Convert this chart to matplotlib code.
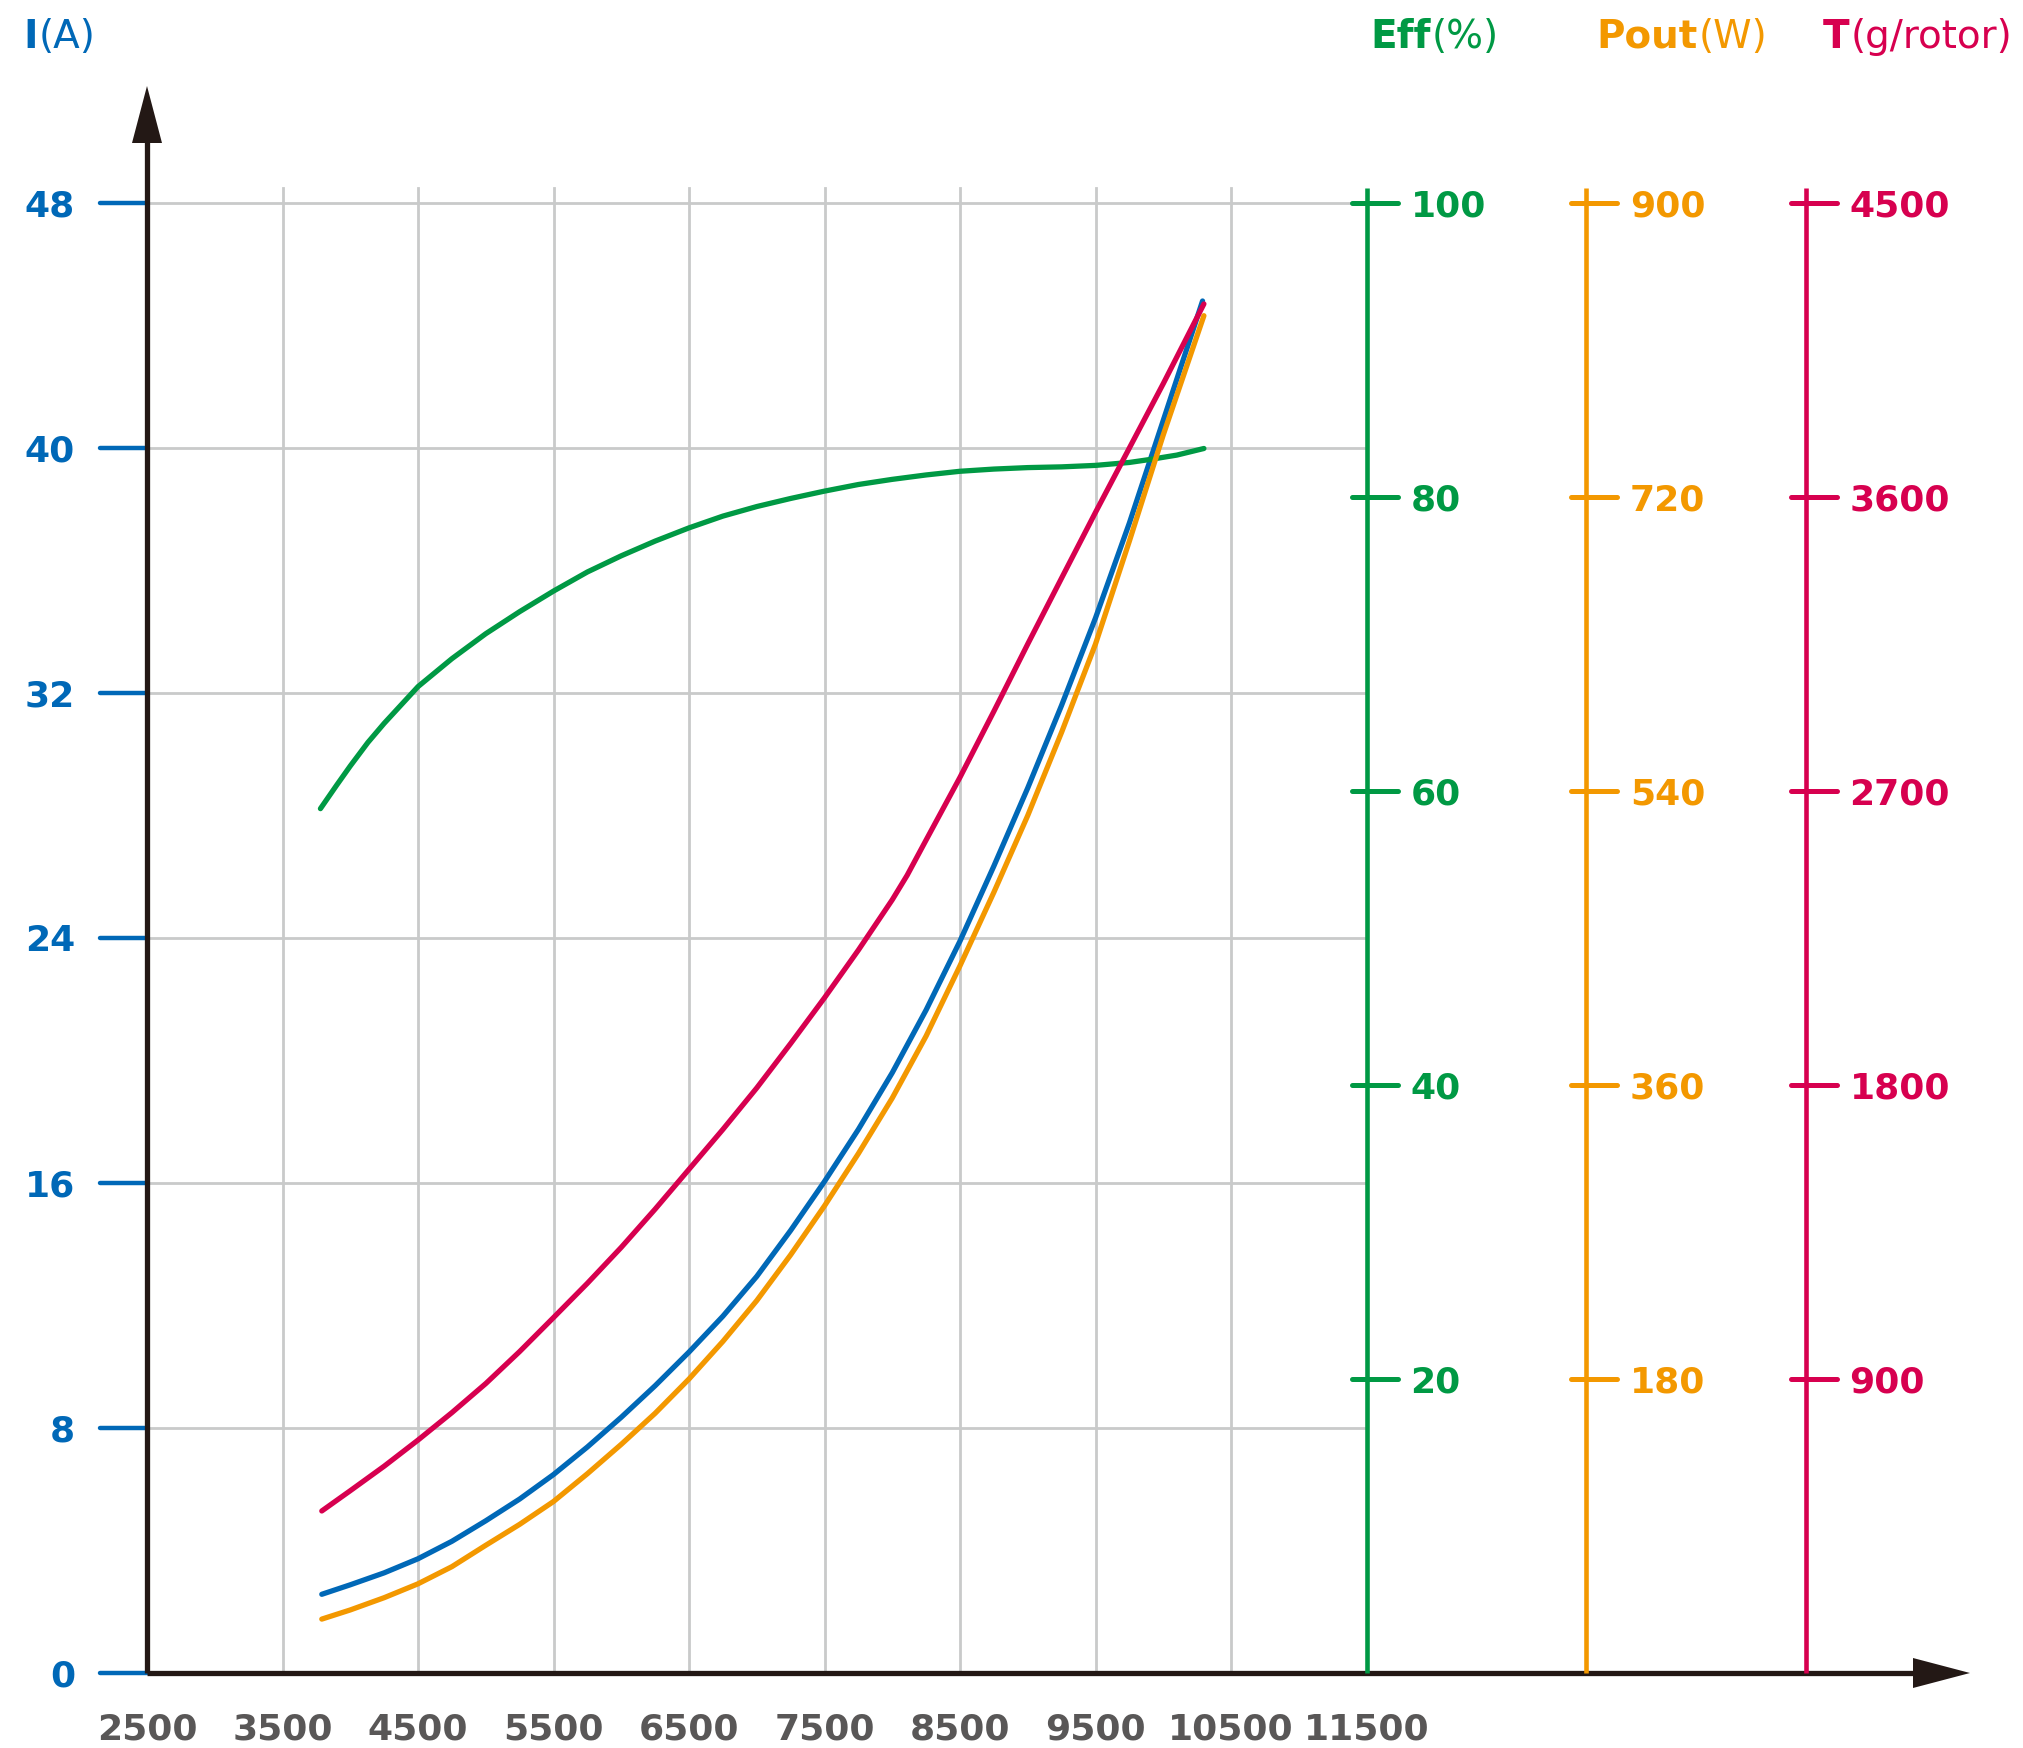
import matplotlib
matplotlib.use("Agg")
import matplotlib.pyplot as plt
from matplotlib.patches import Polygon

# ---------------- data ----------------
x_ticks = [2500, 3500, 4500, 5500, 6500, 7500, 8500, 9500, 10500, 11500]
i_ticks = [0, 8, 16, 24, 32, 40, 48]
eff_ticks = [20, 40, 60, 80, 100]
pout_ticks = [180, 360, 540, 720, 900]
thrust_ticks = [900, 1800, 2700, 3600, 4500]

rpm_i = [3790, 4000, 4250, 4500, 4750, 5000, 5250, 5500, 5750, 6000, 6250, 6500, 6750, 7000,
         7250, 7500, 7750, 8000, 8250, 8500, 8750, 9000, 9250, 9500, 9750, 10000, 10290]
current = [2.57, 2.88, 3.27, 3.73, 4.30, 4.97, 5.68, 6.48, 7.38, 8.35, 9.38, 10.48, 11.65, 12.95,
           14.45, 16.05, 17.75, 19.6, 21.65, 23.9, 26.35, 28.9, 31.6, 34.45, 37.55, 40.9, 44.8]

rpm_p = [3790, 4000, 4250, 4500, 4750, 5000, 5250, 5500, 5750, 6000, 6250, 6500, 6750, 7000,
         7250, 7500, 7750, 8000, 8250, 8500, 8750, 9000, 9250, 9500, 9750, 10000, 10300]
pout = [33, 38.6, 46.1, 54.6, 65.1, 78.2, 91, 105, 122, 140, 159, 180, 203, 228,
        256, 286, 318, 352, 390, 433, 478, 525, 576, 630, 693, 758, 831]

rpm_t = [3790, 4000, 4250, 4500, 4750, 5000, 5250, 5500, 5750, 6000, 6250, 6500, 6750, 7000,
         7250, 7500, 7750, 8000, 8110, 8250, 8500, 8750, 9000, 9250, 9500, 9750, 10000, 10300]
thrust = [496, 558, 633, 713, 797, 886, 984, 1088, 1193, 1303, 1420, 1542, 1664, 1791,
          1927, 2067, 2213, 2367, 2442, 2550, 2742, 2944, 3150, 3352, 3553, 3750, 3947, 4191]

rpm_e = [3780, 3900, 4000, 4130, 4250, 4500, 4750, 5000, 5250, 5500, 5750, 6000, 6250, 6500,
         6750, 7000, 7250, 7500, 7750, 8000, 8250, 8500, 8750, 9000, 9250, 9500, 9750, 9900,
         10100, 10300]
eff = [58.8, 60.4, 61.7, 63.3, 64.6, 67.1, 69.0, 70.7, 72.2, 73.6, 74.9, 76.0, 77.0, 77.9,
       78.7, 79.35, 79.9, 80.4, 80.85, 81.2, 81.5, 81.75, 81.9, 82.0, 82.05, 82.15, 82.35, 82.55,
       82.85, 83.3]

# ---------------- style ----------------
BLUE = "#0068B7"
GREEN = "#009944"
ORANGE = "#F39800"
RED = "#D7004F"
DARK = "#231815"
GRAYTXT = "#595757"
GRID = "#C9CACA"
FONT = "DejaVu Sans"
FS = 26
FS_TITLE = 28

W, H = 2023, 1748
fig = plt.figure(figsize=(W / 100, H / 100), dpi=100)
ax = fig.add_axes([0, 0, 1, 1])

OX, OY = 147, 1673            # pixel position of the origin (2500 rpm, 0 A)
PX_RPM = 135.5 / 1000         # px per rpm
PX_I = 245 / 8                # px per ampere
PT = 72 / 100                 # points per px

X0 = 2500 - OX / PX_RPM
X1 = X0 + W / PX_RPM
Y0 = -(H - OY) / PX_I
Y1 = Y0 + H / PX_I
ax.set_xlim(X0, X1)
ax.set_ylim(Y0, Y1)
ax.axis("off")

I_MAX = 48
TOP = 48.5  # top of grid / right axes

def twin(scale_max):
    t = fig.add_axes([0, 0, 1, 1], sharex=ax)
    t.set_ylim(Y0 * scale_max / I_MAX, Y1 * scale_max / I_MAX)
    t.axis("off")
    return t

ax_e = twin(100)
ax_p = twin(900)
ax_t = twin(4500)

# ---------------- grid ----------------
for xv in x_ticks[1:-1]:
    ax.plot([xv, xv], [0, TOP], color=GRID, lw=2.0, zorder=1)
for yv in i_ticks[1:]:
    ax.plot([2500, 11500], [yv, yv], color=GRID, lw=2.0, zorder=1)

# ---------------- left axis (I) ----------------
tick_len = 47 / PX_RPM
for yv in i_ticks:
    ax.plot([2500 - tick_len, 2500], [yv, yv], color=BLUE, lw=3.2,
            solid_capstyle="round", zorder=2)
    ax.annotate(str(yv), xy=(2500, yv), xytext=(-72 * PT, -0.365 * FS),
                textcoords="offset points", ha="right", va="baseline",
                color=BLUE, fontsize=FS, fontweight="bold", family=FONT)

# main axes with arrows
x_tip = 2500 + (1970 - OX) / PX_RPM
x_len = 57 / PX_RPM
x_hw = 15 / PX_I
y_tip = (OY - 86) / PX_I
y_len = 57 / PX_I
y_hw = 15 / PX_RPM
ax.plot([2500, x_tip - x_len + 5 / PX_RPM], [0, 0], color=DARK, lw=3.8, zorder=5,
        solid_capstyle="butt")
ax.plot([2500, 2500], [0, y_tip - y_len + 5 / PX_I], color=DARK, lw=3.8, zorder=5,
        solid_capstyle="butt")
ax.add_patch(Polygon([(x_tip, 0), (x_tip - x_len, x_hw), (x_tip - x_len, -x_hw)],
                     closed=True, color=DARK, zorder=5, lw=0))
ax.add_patch(Polygon([(2500, y_tip), (2500 - y_hw, y_tip - y_len), (2500 + y_hw, y_tip - y_len)],
                     closed=True, color=DARK, zorder=5, lw=0))

# x tick labels
for xv in x_ticks:
    ax.annotate(str(xv), xy=(xv, 0), xytext=(0, -66 * PT),
                textcoords="offset points", ha="center", va="baseline",
                color=GRAYTXT, fontsize=FS, fontweight="bold", family=FONT)

# ---------------- right axes ----------------
def right_axis(axis_ax, xpos, ticks, color):
    top = TOP * ticks[-1] / I_MAX
    axis_ax.plot([xpos, xpos], [0, top], color=color, lw=3.3, zorder=3,
                 solid_capstyle="butt")
    for v in ticks:
        axis_ax.plot([xpos - 15 / PX_RPM, xpos + 31 / PX_RPM], [v, v], color=color,
                     lw=3.6, solid_capstyle="round", zorder=3)
        axis_ax.annotate(str(v), xy=(xpos, v), xytext=(44 * PT, -0.365 * FS),
                         textcoords="offset points", ha="left", va="baseline",
                         color=color, fontsize=FS, fontweight="bold", family=FONT)

right_axis(ax_e, 11500, eff_ticks, GREEN)
right_axis(ax_p, 13120, pout_ticks, ORANGE)
right_axis(ax_t, 14740, thrust_ticks, RED)

# ---------------- curves ----------------
LW = 3.8
kw = dict(lw=LW, solid_capstyle="round", solid_joinstyle="round", zorder=6)
ax_e.plot(rpm_e, eff, color=GREEN, **kw)
ax_p.plot(rpm_p, pout, color=ORANGE, **kw)
ax.plot(rpm_i, current, color=BLUE, **kw)
ax_t.plot(rpm_t, thrust, color=RED, **kw)

# ---------------- axis titles ----------------
fig.canvas.draw()
renderer = fig.canvas.get_renderer()

def title(px, bold, regular, color, baseline_py=48):
    t1 = fig.text(px / W, 1 - baseline_py / H, bold, color=color, fontsize=FS_TITLE,
                  fontweight="bold", family=FONT, ha="left", va="baseline")
    bb = t1.get_window_extent(renderer=renderer)
    fig.text((bb.x1 + 1) / W, 1 - baseline_py / H, regular, color=color, fontsize=FS_TITLE,
             fontweight="normal", family=FONT, ha="left", va="baseline")

title(23, "I", "(A)", BLUE)
title(1370, "Eff", "(%)", GREEN)
title(1596, "Pout", "(W)", ORANGE)
title(1823, "T", "(g/rotor)", RED)

fig.savefig("out.png", dpi=100, facecolor="white")
